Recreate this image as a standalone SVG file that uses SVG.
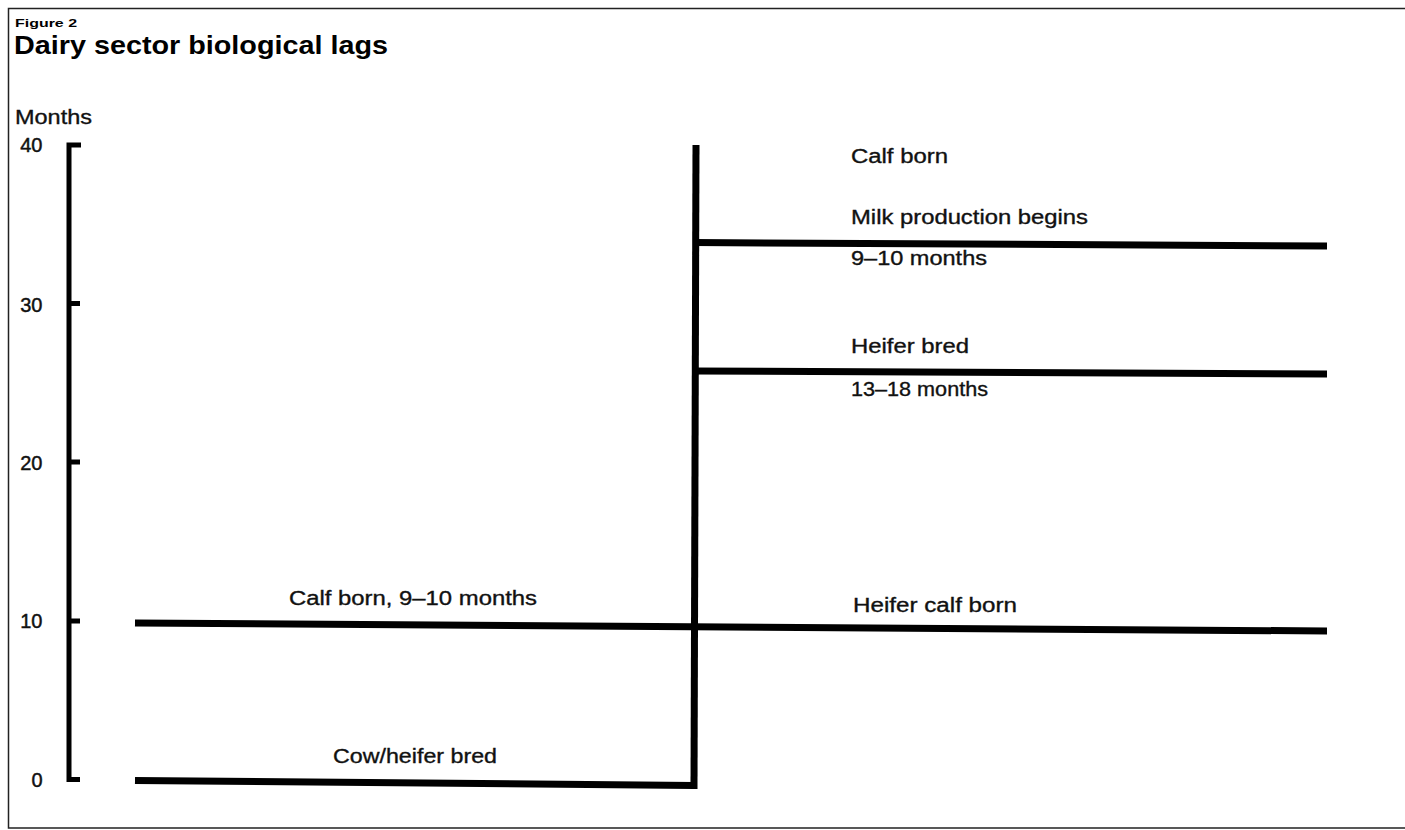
<svg xmlns="http://www.w3.org/2000/svg" width="1405" height="830" viewBox="0 0 1405 830">
<style>
  .lbl { font-family: "Liberation Sans", Arial, sans-serif; font-size: 20px; fill: #111; stroke: #111; stroke-width: 0.35; }
  .num { font-family: "Liberation Sans", Arial, sans-serif; font-size: 20px; fill: #111; stroke: #111; stroke-width: 0.45; text-anchor: end; }
  .bar { stroke: #000; stroke-width: 7; fill: none; stroke-linecap: butt; stroke-linejoin: miter; }
  .axis { stroke: #000; stroke-width: 5; fill: none; stroke-linejoin: miter; }
  .frame { stroke: #222; stroke-width: 1.5; fill: none; }
</style>
<rect x="0" y="0" width="1405" height="830" fill="#fff"/>
<g id="frame">
  <path class="frame" d="M1405 8.5 H8.5 V828 H1405"/>
</g>
<g id="titles">
  <text x="15" y="27" font-family="Liberation Sans, Arial, sans-serif" font-size="11.5" font-weight="bold" textLength="62" lengthAdjust="spacingAndGlyphs">Figure 2</text>
  <text x="14" y="54" font-family="Liberation Sans, Arial, sans-serif" font-size="25" font-weight="bold" textLength="374" lengthAdjust="spacingAndGlyphs">Dairy sector biological lags</text>
  <text class="lbl" x="15" y="124" font-size="19" textLength="77" lengthAdjust="spacingAndGlyphs">Months</text>
</g>
<g id="axis">
  <path class="axis" d="M81 145 H69 V779.5 H80"/>
  <path class="axis" d="M69 303.5 H80 M69 462 H80 M69 621 H80"/>
  <text class="num" x="42.5" y="151.5">40</text>
  <text class="num" x="42.5" y="311.5">30</text>
  <text class="num" x="42.5" y="469.5">20</text>
  <text class="num" x="42.5" y="628">10</text>
  <text class="num" x="42.5" y="787">0</text>
</g>
<g id="connectors">
  <path id="cow-bred-line" class="bar" d="M135 780.5 L694 785.5"/>
  <path id="trunk" class="bar" d="M696 145 L694 789"/>
  <path id="calf-born-line" class="bar" d="M135 623 L1327 631"/>
  <path id="milk-line" class="bar" d="M694 242.5 L1327 246"/>
  <path id="heifer-bred-line" class="bar" d="M694 371 L1327 374"/>
</g>
<g id="label-cow-heifer-bred">
  <text class="lbl" x="333" y="763" textLength="164" lengthAdjust="spacingAndGlyphs">Cow/heifer bred</text>
</g>
<g id="label-calf-born-9-10">
  <text class="lbl" x="289" y="605" textLength="248" lengthAdjust="spacingAndGlyphs">Calf born, 9–10 months</text>
</g>
<g id="label-heifer-calf-born">
  <text class="lbl" x="853" y="612" textLength="164" lengthAdjust="spacingAndGlyphs">Heifer calf born</text>
</g>
<g id="label-calf-born">
  <text class="lbl" x="851" y="163" textLength="97" lengthAdjust="spacingAndGlyphs">Calf born</text>
</g>
<g id="label-milk">
  <text class="lbl" x="851" y="224" textLength="237" lengthAdjust="spacingAndGlyphs">Milk production begins</text>
</g>
<g id="label-9-10">
  <text class="lbl" x="851" y="264.5" textLength="136" lengthAdjust="spacingAndGlyphs">9–10 months</text>
</g>
<g id="label-heifer-bred">
  <text class="lbl" x="851" y="352.5" textLength="118" lengthAdjust="spacingAndGlyphs">Heifer bred</text>
</g>
<g id="label-13-18">
  <text class="lbl" x="851" y="395.5" textLength="137" lengthAdjust="spacingAndGlyphs">13–18 months</text>
</g>
</svg>
